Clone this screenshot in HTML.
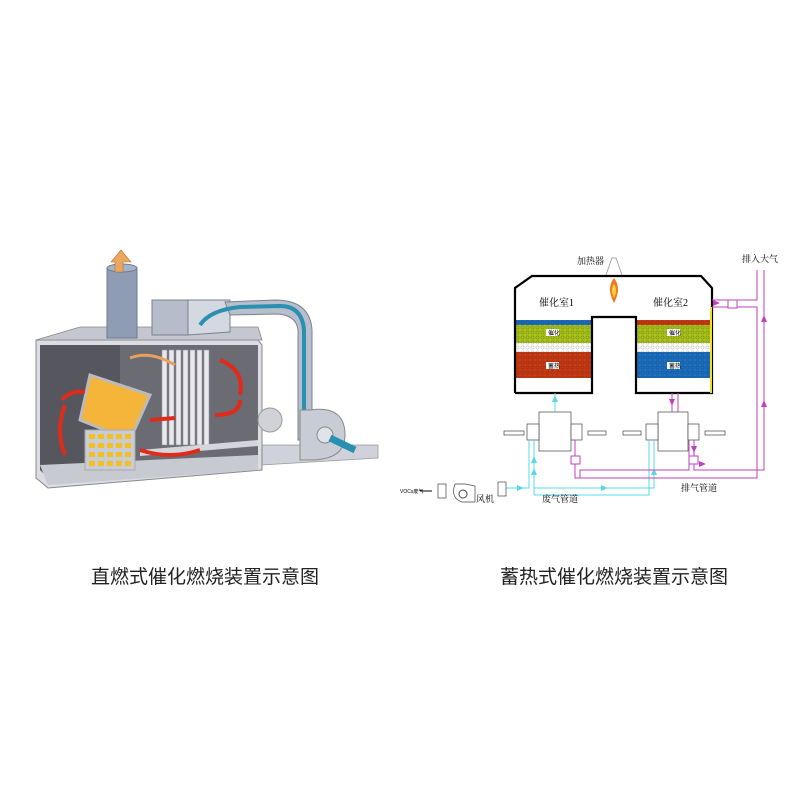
<!DOCTYPE html>
<html><head><meta charset="utf-8"><style>
html,body{margin:0;padding:0;background:#fff;}
svg{display:block}
text{font-family:"Liberation Sans","Noto Sans CJK SC",sans-serif;}
.sf{font-family:"Liberation Serif","Noto Serif CJK SC",serif;}
</style></head><body>
<svg width="800" height="800" viewBox="0 0 800 800" xmlns="http://www.w3.org/2000/svg">
<defs>
<pattern id="hex" width="5" height="5" patternUnits="userSpaceOnUse"><circle cx="2.5" cy="2.5" r="1.6" fill="none" stroke="#000" stroke-opacity="0.25" stroke-width="0.6"/></pattern>
</defs>
<!-- LEFT DIAGRAM -->
<polygon points="262,445 378,445 378,458 262,465" fill="#cfd2da" stroke="#999" stroke-width="0.8"/>
<polygon points="36,340 258,340 262,345 262,470 48,488 36,478" fill="#dcdde3" stroke="#888" stroke-width="1"/>
<polygon points="40,345 258,345 258,460 48,478 40,470" fill="#55565e"/>
<polygon points="120,345 258,345 258,460 120,460" fill="#6a6b73"/>
<polygon points="40,465 258,455 258,470 48,485" fill="#c8cad2"/>
<polygon points="36,340 80,327 258,327 262,340" fill="#c4c7d0" stroke="#888" stroke-width="0.8"/>
<rect x="107" y="268" width="30" height="70" fill="#8e9cb4" stroke="#6e7a90"/>
<ellipse cx="122" cy="268" rx="15" ry="4" fill="#a5b2c8" stroke="#6e7a90"/>
<polygon points="120,272 120,262 116,262 126,250 136,262 128,262 128,272" transform="translate(-5,0)" fill="#e8a860" stroke="#b87030" stroke-width="0.6"/>
<polygon points="152,300 188,300 188,335 152,335" fill="#b6bcca" stroke="#7a8090"/>
<polygon points="188,300 230,300 230,332 188,335" fill="#d4d8e0" stroke="#7a8090"/>
<path d="M225,302 L275,300 Q310,300 312,330 L312,440 L298,440 L298,330 Q296,314 275,314 L230,315 Z" fill="#b8bfcc" stroke="#7a8090"/>
<path d="M200,325 Q210,310 240,307 L280,306 Q302,306 304,330 L304,420" fill="none" stroke="#2a8fb0" stroke-width="4"/>
<g fill="#e8e8ee" stroke="#999" stroke-width="0.6">
<rect x="162" y="350" width="5" height="95"/><rect x="169" y="350" width="5" height="95"/><rect x="176" y="350" width="5" height="95"/><rect x="183" y="350" width="5" height="95"/><rect x="190" y="350" width="5" height="95"/><rect x="197" y="350" width="5" height="95"/><rect x="204" y="350" width="5" height="95"/>
</g>
<polygon points="140,450 258,440 258,446 140,456" fill="#d4d6dc"/>
<polygon points="90,375 150,395 130,440 80,420" fill="#f5b53a" stroke="#bbb" stroke-width="3"/>
<rect x="85" y="430" width="50" height="40" fill="#c9ccd4" stroke="#aaa"/>
<g fill="#f2c020">
<rect x="89" y="434" width="6" height="5"/><rect x="98" y="434" width="6" height="5"/><rect x="107" y="434" width="6" height="5"/><rect x="116" y="434" width="6" height="5"/><rect x="125" y="434" width="6" height="5"/>
<rect x="89" y="443" width="6" height="5"/><rect x="98" y="443" width="6" height="5"/><rect x="107" y="443" width="6" height="5"/><rect x="116" y="443" width="6" height="5"/><rect x="125" y="443" width="6" height="5"/>
<rect x="89" y="452" width="6" height="5"/><rect x="98" y="452" width="6" height="5"/><rect x="107" y="452" width="6" height="5"/><rect x="116" y="452" width="6" height="5"/><rect x="125" y="452" width="6" height="5"/>
<rect x="89" y="461" width="6" height="5"/><rect x="98" y="461" width="6" height="5"/><rect x="107" y="461" width="6" height="5"/><rect x="116" y="461" width="6" height="5"/><rect x="125" y="461" width="6" height="5"/>
</g>
<g fill="none" stroke="#e02a1a" stroke-width="4">
<path d="M65,455 Q55,430 65,405"/><path d="M62,400 Q70,390 85,392"/><path d="M140,450 Q170,460 200,450"/><path d="M150,420 L175,418"/><path d="M220,360 Q245,370 240,395"/><path d="M240,400 Q240,415 215,415"/>
</g>
<path d="M130,358 Q150,350 175,365" fill="none" stroke="#e8a060" stroke-width="3"/>
<circle cx="270" cy="420" r="12" fill="#d0d2d8" stroke="#999"/>
<path d="M310,410 Q345,405 345,435 Q345,460 310,460 L300,460 L300,410 Z" fill="#c8ccd4" stroke="#888"/>
<circle cx="325" cy="435" r="8" fill="#e0e4ea" stroke="#888"/>
<path d="M330,438 L355,450" stroke="#2a8fb0" stroke-width="7"/>
<!-- RIGHT DIAGRAM -->
<g>
<rect x="515" y="320" width="77" height="5" fill="#1d6fc0"/>
<rect x="515" y="325" width="77" height="18" fill="#a8c21c"/>
<rect x="515" y="352" width="77" height="26" fill="#c83a14"/>
<rect x="636" y="320" width="76" height="5" fill="#c83a14"/>
<rect x="636" y="325" width="76" height="18" fill="#a8c21c"/>
<rect x="636" y="352" width="76" height="26" fill="#1d6fc0"/>
<rect x="515" y="320" width="77" height="58" fill="url(#hex)"/>
<rect x="636" y="320" width="76" height="58" fill="url(#hex)"/>
<g font-size="6" fill="#000"><rect x="546" y="329" width="13" height="7" fill="#fff"/><text x="548" y="335">催化</text>
<rect x="546" y="362" width="13" height="7" fill="#fff"/><text x="548" y="368">蓄热</text>
<rect x="667" y="329" width="13" height="7" fill="#fff"/><text x="669" y="335">催化</text>
<rect x="667" y="362" width="13" height="7" fill="#fff"/><text x="669" y="368">蓄热</text></g>
<polyline points="515,393 515,288 532,276 701,276 712,288 712,393 636,393 636,317 592,317 592,393 515,393" fill="none" stroke="#000" stroke-width="2.2"/>
<line x1="711" y1="307" x2="711" y2="393" stroke="#f0e020" stroke-width="2"/>
<path d="M614,278 Q606,288 614,303 Q622,288 614,278Z" fill="#f07a20"/>
<path d="M614,284 Q610,290 614,298 Q618,290 614,284Z" fill="#ffd040"/>
<path d="M606,275 L612,258 L616,258 L622,275" fill="none" stroke="#888" stroke-width="0.7"/>
<text class="sf" x="577" y="264" font-size="9">加热器</text>
<text class="sf" x="539" y="306" font-size="10">催化室1</text>
<text class="sf" x="653" y="306" font-size="10">催化室2</text>
<text class="sf" x="742" y="262" font-size="9">排入大气</text>
<g fill="#fff" stroke="#444" stroke-width="0.7">
<rect x="539" y="412" width="32" height="39"/><rect x="527" y="424" width="12" height="16"/><rect x="571" y="424" width="11" height="16"/>
<rect x="504" y="431" width="20" height="4"/><rect x="588" y="431" width="18" height="4"/>
<rect x="658" y="412" width="30" height="39"/><rect x="646" y="424" width="12" height="16"/><rect x="688" y="424" width="11" height="16"/>
<rect x="623" y="431" width="18" height="4"/><rect x="705" y="431" width="20" height="4"/>
</g>
<g fill="none" stroke="#5ad8e8" stroke-width="1">
<polyline points="529,440 529,488 502,488"/><polyline points="534,440 534,495"/>
<polyline points="649,440 649,495 534,495"/><polyline points="654,440 654,488 534,488"/>
<line x1="555" y1="393" x2="555" y2="412"/>
</g>
<g fill="#5ad8e8"><polygon points="555,395 552,402 558,402"/><polygon points="534,456 531,463 537,463"/><polygon points="534,468 531,475 537,475"/><polygon points="524,488 517,485 517,491"/><polygon points="608,488 601,485 601,491"/><polygon points="654,468 651,475 657,475"/></g>
<g fill="none" stroke="#c040c0" stroke-width="1">
<polyline points="672,393 672,412"/><polyline points="678,393 678,412"/>
<polyline points="575,440 575,478 757,478 757,307 712,307"/>
<polyline points="580,478 580,470 689,470 689,440"/>
<polyline points="694,440 694,470 764,470 764,270"/>
<polyline points="757,270 757,300 712,300"/>
</g>
<g fill="#fff" stroke="#c040c0"><rect x="571" y="456" width="9" height="8"/><rect x="689" y="456" width="9" height="8"/><rect x="728" y="300" width="9" height="8"/></g>
<g fill="#c040c0"><polygon points="672,406 669,399 675,399"/><polygon points="694,453 691,446 697,446"/><polygon points="764,315 761,322 767,322"/><polygon points="764,400 761,407 767,407"/><polygon points="706,464 699,461 699,467"/><polygon points="720,303 713,300 713,306"/></g>
<text class="sf" x="542" y="502" font-size="9">废气管道</text>
<text class="sf" x="681" y="491" font-size="9">排气管道</text>
<text x="400" y="493" font-size="5">VOCs废气</text>
<line x1="420" y1="491" x2="432" y2="491" stroke="#000"/>
<rect x="438" y="484" width="8" height="14" fill="#fff" stroke="#444" stroke-width="0.7"/>
<path d="M455,484 Q450,498 462,502 L475,502 L475,486 L465,484 Z" fill="#fff" stroke="#444" stroke-width="0.7"/>
<circle cx="463" cy="494" r="4" fill="#fff" stroke="#444"/>
<text class="sf" x="476" y="502" font-size="9">风机</text>
<rect x="498" y="482" width="8" height="14" fill="#fff" stroke="#444" stroke-width="0.7"/>
</g>
<text x="91" y="583" font-size="19" fill="#222">直燃式催化燃烧装置示意图</text>
<text x="500" y="583" font-size="19" fill="#222">蓄热式催化燃烧装置示意图</text>
</svg>
</body></html>
